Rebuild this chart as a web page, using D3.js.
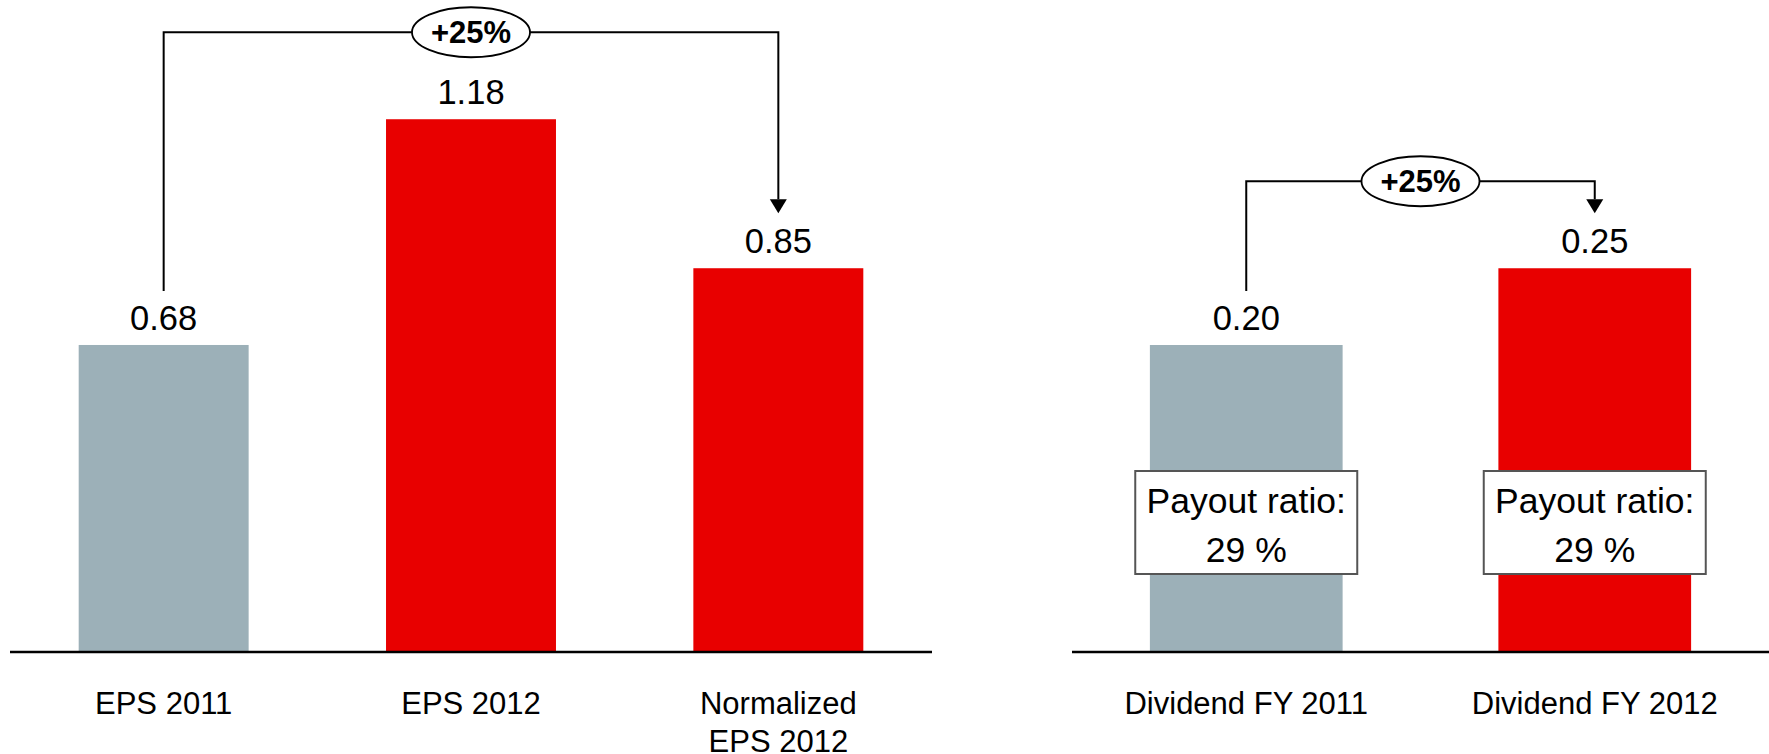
<!DOCTYPE html>
<html>
<head>
<meta charset="utf-8">
<script src="https://cdn.jsdelivr.net/npm/d3@7/dist/d3.min.js"></script>
<style>
  body { margin: 0; background: #fff; }
  svg { display: block; font-family: "Liberation Sans", Arial, sans-serif; }
</style>
</head>
<body>
<svg id="chart" width="1769" height="754"></svg>
<script>
// EPS panel
var epsCategories = [["EPS 2011"], ["EPS 2012"], ["Normalized", "EPS 2012"]];
var epsValues = [0.68, 1.18, 0.85];
var epsGrowth = "+25%";

// dividend panel
var divCategories = [["Dividend FY 2011"], ["Dividend FY 2012"]];
var divValues = [0.20, 0.25];
var divPayout = ["29 %", "29 %"];
var divGrowth = "+25%";

var GREY = "#9cb0b8", RED = "#e80000";

var svg = d3.select("#chart");
var baseY = 652;

function panel(opts) {
  var n = opts.values.length;
  var x = d3.scaleBand()
            .domain(d3.range(n))
            .range(opts.range)
            .paddingInner(0.447)
            .paddingOuter(0.2235);
  var y = d3.scaleLinear().domain([0, opts.unit]).range([baseY, baseY - opts.unitPx]);
  // first bar is prior year (grey), rest are current year
  var color = function(i) { return i == 0 ? GREY : RED; };

  var g = svg.append("g");

  g.selectAll(".bar")
   .data(opts.values)
   .enter().append("rect")
   .attr("class", "bar")
   .attr("x", function(d, i) { return x(i); })
   .attr("y", function(d) { return y(d); })
   .attr("width", x.bandwidth())
   .attr("height", function(d) { return baseY - y(d); })
   .attr("fill", function(d, i) { return color(i); });

  // baseline
  g.append("line")
   .attr("x1", opts.range[0]).attr("x2", opts.range[1])
   .attr("y1", baseY).attr("y2", baseY)
   .attr("stroke", "#000").attr("stroke-width", 2.5);

  // value labels
  g.selectAll(".val")
   .data(opts.values)
   .enter().append("text")
   .attr("text-anchor", "middle")
   .attr("x", function(d, i) { return x(i) + x.bandwidth() / 2; })
   .attr("y", function(d) { return y(d) - 15; })
   .attr("font-size", 34.5)
   .text(function(d) { return d.toFixed(2); });

  // category labels
  var cats = g.selectAll(".cat")
              .data(opts.categories)
              .enter().append("text")
              .attr("text-anchor", "middle")
              .attr("font-size", 31)
              .attr("transform", function(d, i) {
                return "translate(" + (x(i) + x.bandwidth() / 2) + "," + 714 + ")";
              });
  cats.selectAll("tspan")
      .data(function(d) { return d; })
      .enter().append("tspan")
      .attr("x", 0)
      .attr("y", function(d, j) { return j * 38; })
      .text(function(d) { return d; });

  // growth bracket from first bar to last bar
  var i0 = 0, i1 = n - 1;
  var x0 = x(i0) + x.bandwidth() / 2,
      x1 = x(i1) + x.bandwidth() / 2;
  var topY = y(d3.max(opts.values)) - 87;
  var startY = y(opts.values[i0]) - 54;
  var tipY = y(opts.values[i1]) - 55;
  var headH = 14, headW = 8.5;

  g.append("path")
   .attr("d", "M" + x0 + "," + startY + "V" + topY + "H" + x1 + "V" + (tipY - headH))
   .attr("fill", "none")
   .attr("stroke", "#000")
   .attr("stroke-width", 2);
  g.append("path")
   .attr("d", "M" + (x1 - headW) + "," + (tipY - headH) + "L" + (x1 + headW) + "," + (tipY - headH) + "L" + x1 + "," + tipY + "Z")
   .attr("fill", "#000");

  var cx = (x0 + x1) / 2;
  g.append("ellipse")
   .attr("cx", cx).attr("cy", topY)
   .attr("rx", 59).attr("ry", 25)
   .attr("fill", "#fff")
   .attr("stroke", "#000")
   .attr("stroke-width", 1.8);
  g.append("text")
   .attr("x", cx).attr("y", topY + 11)
   .attr("text-anchor", "middle")
   .attr("font-size", 31)
   .attr("font-weight", "bold")
   .text(opts.growth);

  // payout ratio boxes
  if (opts.payout) {
    var boxW = 222, boxH = 103, boxTop = 471;
    var box = g.selectAll(".payout")
               .data(opts.payout)
               .enter().append("g")
               .attr("transform", function(d, i) {
                 return "translate(" + (x(i) + x.bandwidth() / 2) + "," + boxTop + ")";
               });
    box.append("rect")
       .attr("x", -boxW / 2).attr("y", 0)
       .attr("width", boxW).attr("height", boxH)
       .attr("fill", "#fff")
       .attr("stroke", "#555")
       .attr("stroke-width", 2);
    box.append("text")
       .attr("text-anchor", "middle")
       .attr("y", 42)
       .attr("font-size", 35.5)
       .text("Payout ratio:");
    box.append("text")
       .attr("text-anchor", "middle")
       .attr("y", 91)
       .attr("font-size", 35.5)
       .text(function(d) { return d; });
  }
}

panel({
  categories: epsCategories,
  values: epsValues,
  growth: epsGrowth,
  range: [10, 932],
  unit: 1, unitPx: 451.5
});

panel({
  categories: divCategories,
  values: divValues,
  growth: divGrowth,
  payout: divPayout,
  range: [1072, 1769],
  unit: 0.2, unitPx: 307
});
</script>
</body>
</html>
